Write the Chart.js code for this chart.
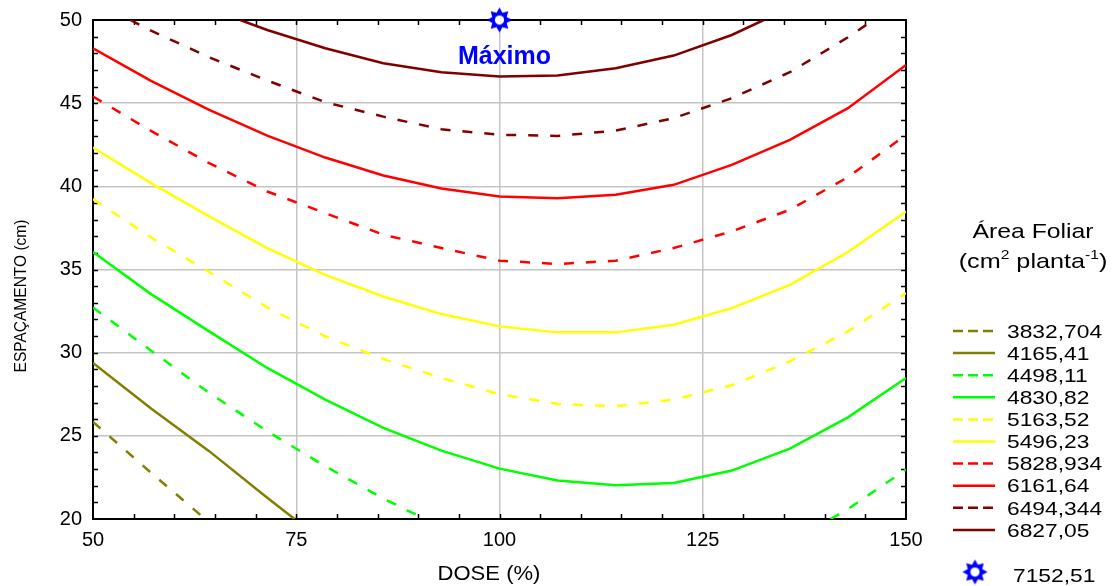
<!DOCTYPE html>
<html lang="pt">
<head>
<meta charset="UTF-8" />
<title>Área Foliar - Dose x Espaçamento</title>
<script src="https://cdn.jsdelivr.net/npm/chart.js"></script>
<style>
  body { margin: 0; background: #fff; }
  #wrap { width: 1115px; height: 586px; }
</style>
</head>
<body>
<div id="wrap"><canvas id="chart" width="1115" height="586"></canvas></div>
<script>
// contour levels (legend)
const levelLabels = ['3832,704', '4165,41', '4498,11', '4830,82', '5163,52', '5496,23', '5828,934', '6161,64', '6494,344', '6827,05'];
const levelColors = ['#808000', '#808000', '#00ff00', '#00ff00', '#ffff00', '#ffff00', '#ff0000', '#ff0000', '#800000', '#800000'];
const levelDashed = [true, false, true, false, true, false, true, false, true, false];
const maxLabel = '7152,51';
const maxPoint = [100, 50];

// dose grid (%) used by the full-width curves
const doseSteps = [50, 57.14, 64.29, 71.43, 78.57, 85.71, 92.86, 100, 107.14, 114.29, 121.43, 128.57, 135.71, 142.86, 150];

// espaçamento (cm)
const dose3832 = [50, 57.14, 63.8];
const esp3832 = [25.84, 22.78, 20];
const dose4165 = [50, 57.14, 64.29, 71.43, 74.8];
const esp4165 = [29.38, 26.64, 24.08, 21.28, 20];
const dose4498a = [50, 57.14, 64.29, 71.43, 78.57, 85.71, 90.8];
const esp4498a = [32.72, 30.12, 27.58, 25.28, 23.17, 21.23, 20];
const dose4498b = [140.7, 142.86, 150];
const esp4498b = [20, 20.6, 22.97];
const esp4830 = [36.05, 33.52, 31.28, 29.08, 27.18, 25.48, 24.11, 23.03, 22.31, 22.03, 22.17, 22.91, 24.23, 26.11, 28.48];
const esp5163 = [39.23, 36.93, 34.85, 32.72, 30.98, 29.62, 28.48, 27.5, 26.92, 26.78, 27.18, 28.04, 29.48, 31.28, 33.58];
const esp5496 = [42.33, 40.19, 38.19, 36.29, 34.68, 33.38, 32.32, 31.58, 31.22, 31.22, 31.68, 32.68, 34.08, 36.05, 38.49];
const esp5828 = [45.4, 43.33, 41.39, 39.69, 38.39, 37.09, 36.29, 35.53, 35.33, 35.53, 36.29, 37.29, 38.59, 40.55, 43.1];
const esp6161 = [48.3, 46.34, 44.6, 43.05, 41.73, 40.65, 39.87, 39.39, 39.29, 39.49, 40.09, 41.29, 42.79, 44.7, 47.3];
const dose6494 = [54.6, 57.14, 64.29, 71.43, 78.57, 85.71, 92.86, 100, 107.14, 114.29, 121.43, 128.57, 135.71, 142.86, 146];
const esp6494 = [50, 49.36, 47.76, 46.36, 45.06, 44.19, 43.43, 43.1, 43.03, 43.35, 44.1, 45.3, 46.86, 48.96, 50];
const dose6827 = [68.1, 71.43, 78.57, 85.71, 92.86, 100, 107.14, 114.29, 121.43, 128.57, 132.5];
const esp6827 = [50, 49.4, 48.3, 47.4, 46.86, 46.6, 46.66, 47.1, 47.86, 49.1, 50];

const FONT = "'Liberation Sans', Arial, sans-serif";

function pts(xs, ys) { return xs.map((x, i) => ({ x: x, y: ys[i] })); }

// [level index, dose array, esp array]
const curves = [
  [0, dose3832, esp3832],
  [1, dose4165, esp4165],
  [2, dose4498a, esp4498a],
  [2, dose4498b, esp4498b],
  [3, doseSteps, esp4830],
  [4, doseSteps, esp5163],
  [5, doseSteps, esp5496],
  [6, doseSteps, esp5828],
  [7, doseSteps, esp6161],
  [8, dose6494, esp6494],
  [9, dose6827, esp6827]
];

function makeStar(r) {
  const c = document.createElement('canvas');
  const s = Math.ceil(r * 2 + 4);
  c.width = s; c.height = s;
  const g = c.getContext('2d');
  const cx = s / 2, cy = s / 2;
  g.fillStyle = '#0000ff';
  g.beginPath();
  for (let i = 0; i < 16; i++) {
    const a = -Math.PI / 2 + i * Math.PI / 8;
    const rr = i % 2 === 0 ? r : r * 0.62;
    g.lineTo(cx + rr * Math.cos(a), cy + rr * Math.sin(a));
  }
  g.closePath();
  g.fill();
  g.fillStyle = '#fff';
  g.beginPath(); g.arc(cx, cy, r * 0.37, 0, Math.PI * 2); g.fill();
  return c;
}
const starImg = makeStar(12.5);

const datasets = curves.map(([k, xs, ys]) => ({
  label: levelLabels[k],
  data: pts(xs, ys),
  showLine: true,
  borderColor: levelColors[k],
  borderWidth: 2.5,
  borderDash: levelDashed[k] ? [10, 12] : [],
  pointRadius: 0,
  tension: 0,
  fill: false
}));
datasets.push({
  label: maxLabel,
  data: [{ x: maxPoint[0], y: maxPoint[1] }],
  showLine: false,
  pointStyle: starImg,
  pointRadius: 12,
  clip: false
});

function stretchText(ctx, txt, x, y, sx, align) {
  ctx.save();
  ctx.translate(x, y);
  ctx.scale(sx, 1);
  ctx.textAlign = align || 'left';
  ctx.fillText(txt, 0, 0);
  ctx.restore();
}

const decor = {
  id: 'decor',
  beforeDatasetsDraw(chart) {
    const { ctx, chartArea: a, scales: { x, y } } = chart;
    ctx.save();
    ctx.strokeStyle = '#000';
    ctx.lineWidth = 1.5;
    ctx.beginPath();
    for (let v = 55; v < 150; v += 5) {
      const px = Math.round(x.getPixelForValue(v)) + 0.5;
      ctx.moveTo(px, a.bottom); ctx.lineTo(px, a.bottom - 5);
      ctx.moveTo(px, a.top); ctx.lineTo(px, a.top + 5);
    }
    for (let v = 21; v < 50; v += 1) {
      const py = Math.round(y.getPixelForValue(v)) + 0.5;
      ctx.moveTo(a.left, py); ctx.lineTo(a.left + 5, py);
      ctx.moveTo(a.right, py); ctx.lineTo(a.right - 5, py);
    }
    ctx.stroke();
    ctx.lineWidth = 2;
    ctx.strokeRect(a.left, a.top, a.right - a.left, a.bottom - a.top);
    ctx.restore();
  },
  afterDraw(chart) {
    const { ctx, scales: { x, y } } = chart;
    ctx.save();
    ctx.fillStyle = '#000';
    ctx.textBaseline = 'alphabetic';

    // axis titles
    ctx.font = '21px ' + FONT;
    stretchText(ctx, 'DOSE (%)', 489, 580, 1.05, 'center');
    ctx.save();
    ctx.translate(26, 296);
    ctx.rotate(-Math.PI / 2);
    ctx.font = '16px ' + FONT;
    stretchText(ctx, 'ESPAÇAMENTO (cm)', 0, 0, 0.97, 'center');
    ctx.restore();

    // maximum label
    ctx.fillStyle = '#0000ff';
    ctx.font = 'bold 25px ' + FONT;
    ctx.textAlign = 'center';
    ctx.fillText('Máximo', x.getPixelForValue(maxPoint[0]) + 5, y.getPixelForValue(maxPoint[1]) + 44);

    // legend title
    ctx.fillStyle = '#000';
    ctx.font = '21px ' + FONT;
    stretchText(ctx, 'Área Foliar', 1033, 238, 1.18, 'center');
    const parts = [['(cm', 0], ['2', 1], [' planta', 0], ['-1', 1], [')', 0]];
    const sx = 1.2;
    let total = 0;
    parts.forEach(([t, sup]) => {
      ctx.font = (sup ? '13px ' : '21px ') + FONT;
      total += ctx.measureText(t).width;
    });
    let px = 1033 - total * sx / 2;
    parts.forEach(([t, sup]) => {
      ctx.font = (sup ? '13px ' : '21px ') + FONT;
      stretchText(ctx, t, px, sup ? 259 : 268, sx, 'left');
      px += ctx.measureText(t).width * sx;
    });

    // legend entries
    ctx.lineWidth = 2.5;
    levelLabels.forEach((lab, i) => {
      const ly = 331 + i * 22.1;
      ctx.strokeStyle = levelColors[i];
      ctx.setLineDash(levelDashed[i] ? [10, 5] : []);
      ctx.beginPath();
      ctx.moveTo(953, ly); ctx.lineTo(995, ly);
      ctx.stroke();
      ctx.setLineDash([]);
      ctx.font = '19px ' + FONT;
      ctx.textBaseline = 'middle';
      stretchText(ctx, lab, 1007, ly + 1.5, 1.2, 'left');
    });
    ctx.drawImage(starImg, 975 - starImg.width / 2, 572 - starImg.height / 2);
    ctx.textBaseline = 'alphabetic';
    ctx.font = '19px ' + FONT;
    stretchText(ctx, maxLabel, 1013, 582, 1.2, 'left');
    ctx.restore();
  }
};

const tickFont = { family: FONT, size: 20 };
new Chart(document.getElementById('chart'), {
  type: 'scatter',
  data: { datasets: datasets },
  options: {
    responsive: false,
    animation: false,
    layout: { padding: { top: 20, right: 209, left: 0, bottom: 0 } },
    plugins: { legend: { display: false }, tooltip: { enabled: false } },
    scales: {
      x: {
        type: 'linear', min: 50, max: 150,
        ticks: { stepSize: 25, color: '#000', font: tickFont, padding: 9, maxRotation: 0 },
        grid: { color: '#c4c4c4', lineWidth: 1.5, drawTicks: false },
        border: { display: false },
        afterFit: s => { s.height = 67; s.paddingLeft = 0; s.paddingRight = 0; }
      },
      y: {
        type: 'linear', min: 20, max: 50,
        ticks: { stepSize: 5, color: '#000', font: tickFont, padding: 11 },
        grid: { color: '#c4c4c4', lineWidth: 1.5, drawTicks: false },
        border: { display: false },
        afterFit: s => { s.width = 93; s.paddingTop = 0; s.paddingBottom = 0; }
      }
    }
  },
  plugins: [decor]
});
</script>
</body>
</html>
